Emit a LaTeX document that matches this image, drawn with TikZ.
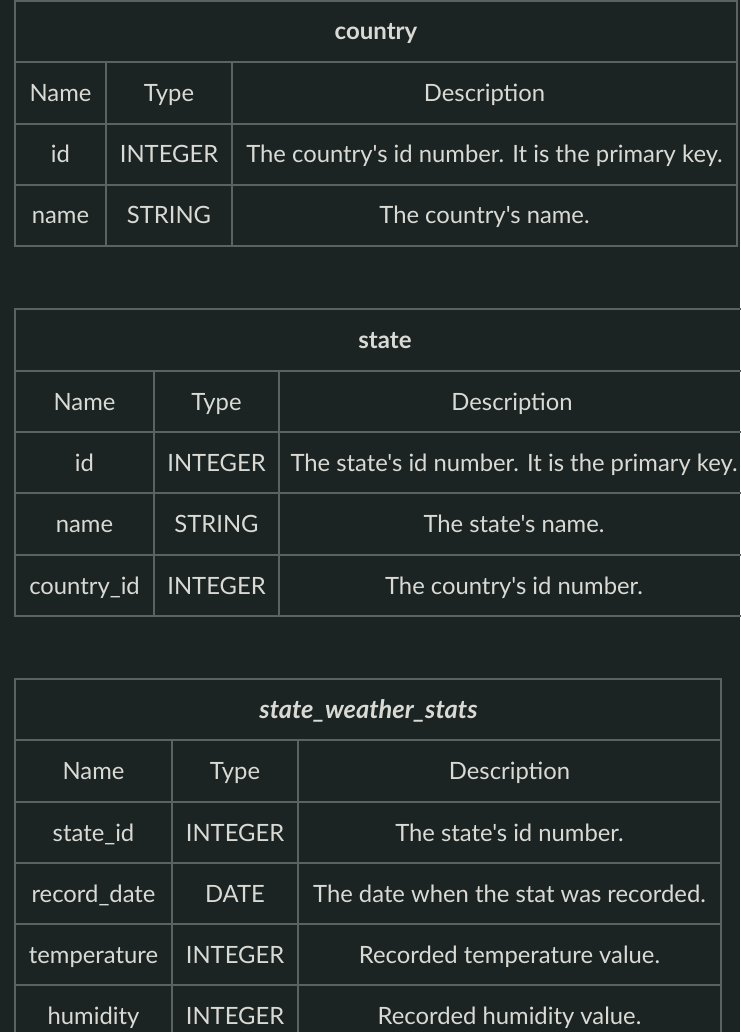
\documentclass[tikz,border=0pt]{standalone}
\usepackage{fontspec}
\setmainfont{Lato}[Ligatures=TeXOff]
\definecolor{bg}{RGB}{27,35,35}
\definecolor{grid}{RGB}{92,98,98}
\definecolor{txt}{RGB}{218,218,212}
\begin{document}
\begin{tikzpicture}[x=1pt,y=-1pt,
  gridline/.style={draw=grid, line width=1.8pt},
  cell/.style={text=txt, font=\fontsize{23.8}{26}\selectfont, anchor=base, inner sep=0pt, yshift=-8.5pt},
  title/.style={text=txt, font=\fontsize{24}{26}\selectfont\bfseries, anchor=base, inner sep=0pt, yshift=-8.5pt},
  ititle/.style={title, font=\fontsize{25.5}{28}\selectfont\bfseries\itshape}]
\fill[bg] (0,0) rectangle (740,1032);
\useasboundingbox (0,0) rectangle (740,1032);

% ---------------- country ----------------
\draw[gridline] (15,1) rectangle (737,246);
\draw[gridline] (15,62) -- (737,62);
\draw[gridline] (15,124) -- (737,124);
\draw[gridline] (15,185) -- (737,185);
\draw[gridline] (106,62) -- (106,246);
\draw[gridline] (232,62) -- (232,246);
\node[title] (c-title) at (376,31.5) {country};
\node[cell] (c-h1) at (60.5,93) {Name};
\node[cell] (c-h2) at (169,93) {Type};
\node[cell] (c-h3) at (484.5,93) {Description};
\node[cell] (c-r1a) at (60.5,154.5) {id};
\node[cell] (c-r1b) at (169,154.5) {INTEGER};
\node[cell] (c-r1c) at (484.5,154.5) {The country's id number. It is the primary key.};
\node[cell] (c-r2a) at (60.5,215.5) {name};
\node[cell] (c-r2b) at (169,215.5) {STRING};
\node[cell] (c-r2c) at (484.5,215.5) {The country's name.};

% ---------------- state ----------------
\draw[gridline] (746,309) -- (15,309) -- (15,616) -- (746,616);
\draw[gridline] (15,371) -- (746,371);
\draw[gridline] (15,432) -- (746,432);
\draw[gridline] (15,493) -- (746,493);
\draw[gridline] (15,555) -- (746,555);
\draw[gridline] (154,371) -- (154,616);
\draw[gridline] (279,371) -- (279,616);
\node[title] (s-title) at (385,340) {state};
\node[cell] (s-h1) at (84.5,401.5) {Name};
\node[cell] (s-h2) at (216.5,401.5) {Type};
\node[cell] (s-h3) at (512,401.5) {Description};
\node[cell] (s-r1a) at (84.5,462.5) {id};
\node[cell] (s-r1b) at (216.5,462.5) {INTEGER};
\node[cell] (s-r1c) at (514,462.5) {The state's id number. It is the primary key.};
\node[cell] (s-r2a) at (84.5,524) {name};
\node[cell] (s-r2b) at (216.5,524) {STRING};
\node[cell] (s-r2c) at (514,524) {The state's name.};
\node[cell] (s-r3a) at (84.5,585.5) {country\_id};
\node[cell] (s-r3b) at (216.5,585.5) {INTEGER};
\node[cell] (s-r3c) at (514,585.5) {The country's id number.};

% ---------------- state_weather_stats ----------------
\draw[gridline] (15,1040) -- (15,679) -- (721,679) -- (721,1040);
\draw[gridline] (15,740) -- (721,740);
\draw[gridline] (15,802) -- (721,802);
\draw[gridline] (15,863) -- (721,863);
\draw[gridline] (15,924) -- (721,924);
\draw[gridline] (15,985) -- (721,985);
\draw[gridline] (172,740) -- (172,1040);
\draw[gridline] (298,740) -- (298,1040);
\node[ititle] (w-title) at (368.5,709.5) {state\_weather\_stats};
\node[cell] (w-h1) at (93.5,771) {Name};
\node[cell] (w-h2) at (235,771) {Type};
\node[cell] (w-h3) at (509.5,771) {Description};
\node[cell] (w-r1a) at (93.5,832.5) {state\_id};
\node[cell] (w-r1b) at (235,832.5) {INTEGER};
\node[cell] (w-r1c) at (509.5,832.5) {The state's id number.};
\node[cell] (w-r2a) at (93.5,893.5) {record\_date};
\node[cell] (w-r2b) at (235,893.5) {DATE};
\node[cell] (w-r2c) at (509.5,893.5) {The date when the stat was recorded.};
\node[cell] (w-r3a) at (93.5,954.5) {temperature};
\node[cell] (w-r3b) at (235,954.5) {INTEGER};
\node[cell] (w-r3c) at (509.5,954.5) {Recorded temperature value.};
\node[cell] (w-r4a) at (93.5,1016) {humidity};
\node[cell] (w-r4b) at (235,1016) {INTEGER};
\node[cell] (w-r4c) at (509.5,1016) {Recorded humidity value.};
\end{tikzpicture}
\end{document}
